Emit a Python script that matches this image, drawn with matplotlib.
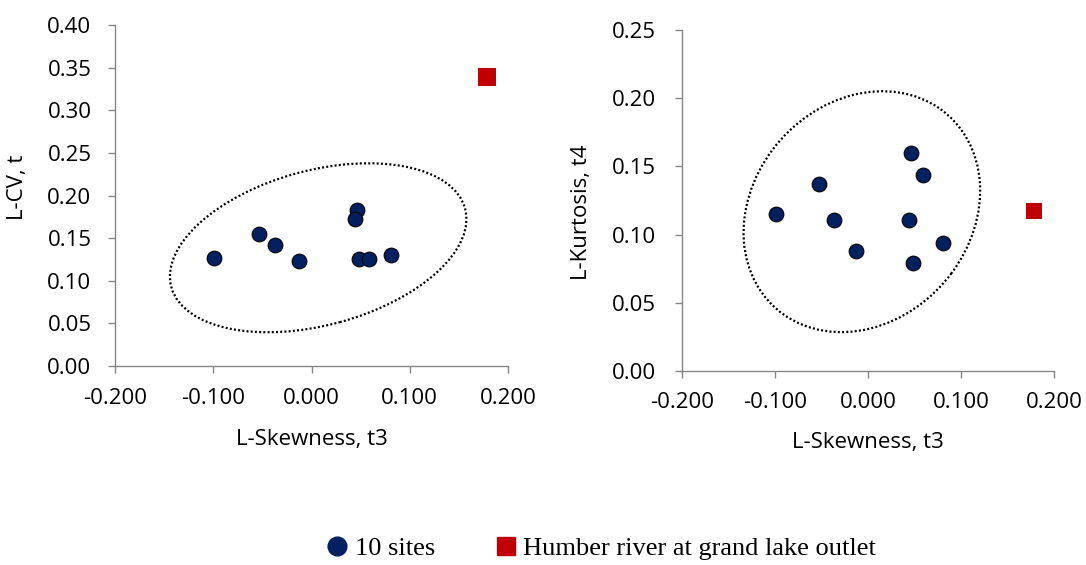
import numpy as np
import matplotlib
matplotlib.use("Agg")
import matplotlib.pyplot as plt
from matplotlib.patches import Circle
from matplotlib.transforms import Affine2D
from matplotlib.ticker import FormatStrFormatter
from matplotlib.lines import Line2D

plt.rcParams['font.family'] = ['Open Sans', 'DejaVu Sans']
plt.rcParams['axes.unicode_minus'] = False

# L-moment ratios of the 10 sites and the Humber river station
t3_sites = [-0.099, -0.053, -0.037, -0.013, 0.046, 0.044, 0.048, 0.059, 0.081]
lcv_sites = [0.127, 0.155, 0.142, 0.123, 0.183, 0.172, 0.125, 0.125, 0.130]
t4_sites = [0.115, 0.137, 0.111, 0.088, 0.160, 0.111, 0.079, 0.144, 0.094]

t3_humber = [0.179]
lcv_humber = [0.339]
t4_humber = [0.117]

site_label = '10 sites'
humber_label = 'Humber river at grand lake outlet'

navy = '#002060'
red = '#C00000'
axis_grey = '#868686'

# dotted envelope around the site cluster: centre and linear map of unit circle
env_left = dict(cx=0.0068, cy=0.1387, a=0.1493, b=-0.02196, c=0.04689, d=0.0873)
env_right = dict(cx=-0.0066, cy=0.1168, a=0.08353, b=-0.09593, c=0.07566, d=0.04553)

fig = plt.figure(figsize=(10.86, 5.65), dpi=100)
ax1 = fig.add_axes([115 / 1086, 199 / 565, 393 / 1086, 341 / 565])
ax2 = fig.add_axes([682 / 1086, 194 / 565, 372 / 1086, 341 / 565])


def draw_envelope(ax, e):
    m = Affine2D.from_values(e['a'], e['c'], e['b'], e['d'], e['cx'], e['cy'])
    ring = Circle((0, 0), 1, fill=False, edgecolor='black', linewidth=1.6,
                  linestyle=(0, (0.9, 1.0)), transform=m + ax.transData, zorder=2)
    ax.add_patch(ring)


def style_axis(ax, ymax, ystep, ypad, xpad):
    ax.set_xlim(-0.2, 0.2)
    ax.set_ylim(0, ymax)
    ax.set_xticks(np.arange(-0.2, 0.2001, 0.1))
    ax.set_yticks(np.arange(0, ymax + 1e-9, ystep))
    ax.xaxis.set_major_formatter(FormatStrFormatter('%.3f'))
    ax.yaxis.set_major_formatter(FormatStrFormatter('%.2f'))
    for side in ('top', 'right'):
        ax.spines[side].set_visible(False)
    for side in ('left', 'bottom'):
        ax.spines[side].set_color(axis_grey)
        ax.spines[side].set_linewidth(1.0)
    ax.tick_params(axis='both', direction='out', length=5, width=1.0,
                   color=axis_grey, labelsize=16, labelcolor='black')
    ax.tick_params(axis='y', pad=ypad)
    ax.tick_params(axis='x', pad=xpad)
    ax.patch.set_alpha(0)


# left panel: L-CV vs L-skewness
draw_envelope(ax1, env_left)
ax1.scatter(t3_sites, lcv_sites, s=112, color=navy, edgecolors='black',
            linewidths=0.8, zorder=3, clip_on=False)
ax1.scatter(t3_humber, lcv_humber, s=185, marker='s', color=red,
            linewidths=0, zorder=3, clip_on=False)
style_axis(ax1, 0.4, 0.05, 12, 11)
ax1.set_xlabel('L-Skewness, t3', fontsize=16)
ax1.set_ylabel('L-CV, t', fontsize=16)
ax1.xaxis.set_label_coords(0.5, -0.185)
ax1.yaxis.set_label_coords(-0.222, 0.525)

# right panel: L-kurtosis vs L-skewness
draw_envelope(ax2, env_right)
ax2.scatter(t3_sites, t4_sites, s=112, color=navy, edgecolors='black',
            linewidths=0.8, zorder=3, clip_on=False)
ax2.scatter(t3_humber, t4_humber, s=140, marker='s', color=red,
            linewidths=0, zorder=3, clip_on=False)
style_axis(ax2, 0.25, 0.05, 14, 10)
ax2.set_xlabel('L-Skewness, t3', fontsize=16)
ax2.set_ylabel('L-Kurtosis, t4', fontsize=16)
ax2.xaxis.set_label_coords(0.5, -0.18)
ax2.yaxis.set_label_coords(-0.242, 0.466)

handles = [
    Line2D([], [], linestyle='none', marker='o', markersize=13.5,
           markerfacecolor=navy, markeredgecolor=navy, label=site_label),
    Line2D([], [], linestyle='none', marker='s', markersize=13.5,
           markerfacecolor=red, markeredgecolor=red, label=humber_label),
]
fig.legend(handles=handles, loc='center', bbox_to_anchor=(0.555, 0.03),
           ncol=2, frameon=False, handlelength=0.6, handletextpad=0.35,
           columnspacing=2.4,
           prop={'family': ['Liberation Serif', 'DejaVu Serif'], 'size': 19})

fig.savefig('out.png', dpi=100)
